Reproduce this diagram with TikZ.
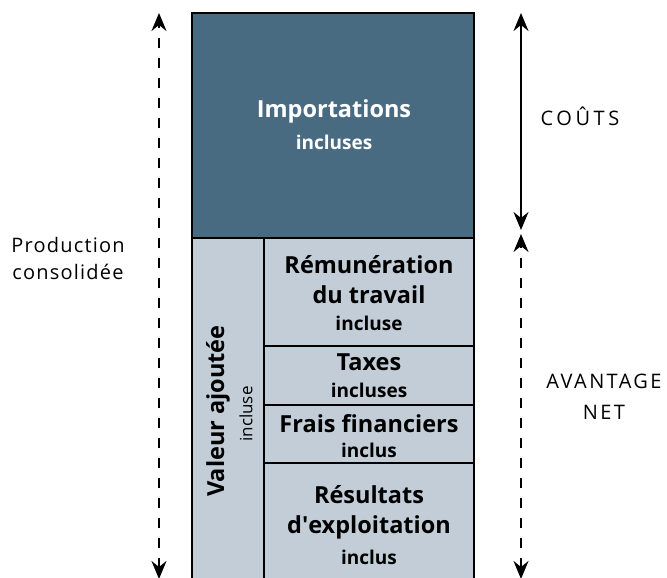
\documentclass[tikz,border=0pt]{standalone}
\usepackage{fontspec}
\setmainfont{Open Sans}
\usetikzlibrary{arrows.meta}

\definecolor{impblue}{HTML}{486B82}
\definecolor{vapale}{HTML}{C2CDD7}

\tikzset{
  cell/.style={draw=black, line width=2pt, fill=vapale, inner sep=0pt, outer sep=0pt,
               align=center, anchor=north west},
  title/.style={font=\bfseries\fontsize{23.5}{30}\selectfont, inner sep=0pt},
  sub/.style={font=\bfseries\fontsize{19}{20}\selectfont, inner sep=0pt},
  side/.style={font=\fontsize{20}{27}\selectfont, align=center},
  tip/.style={Stealth[length=18pt,width=15pt,inset=6pt]},
  span/.style={line width=2.2pt, {Stealth[length=18pt,width=15pt,inset=6pt]}-{Stealth[length=18pt,width=15pt,inset=6pt]}},
  dashspan/.style={span, dash pattern=on 10pt off 10pt},
}

\begin{document}
\begin{tikzpicture}[x=1pt,y=-1pt]
\useasboundingbox (0,0) rectangle (667,578);

% stacked blocks of the production column
\node[cell, fill=impblue, minimum width=282pt, minimum height=225pt] (imp) at (192,13) {};
\node[cell, minimum width=72pt, minimum height=345pt] (va) at (192,238) {};
\node[cell, minimum width=210pt, minimum height=108pt] (rem) at (264,238) {};
\node[cell, minimum width=210pt, minimum height=59pt] (tax) at (264,346) {};
\node[cell, minimum width=210pt, minimum height=58pt] (fra) at (264,405) {};
\node[cell, minimum width=210pt, minimum height=120pt] (res) at (264,463) {};

% labels inside the blocks
\node[title, text=white] (impt) at (334,111) {Importations};
\node[sub, text=white] (impi) at (334,142) {incluses};
\node[title, align=center] (remt) at (369,280) {Rémunération\\du travail};
\node[sub] (remi) at (369,323) {incluse};
\node[title] (taxt) at (369,362) {Taxes};
\node[sub] (taxi) at (369,390) {incluses};
\node[title] (frat) at (369,424) {Frais financiers};
\node[sub] (frai) at (369,450) {inclus};
\node[title, align=center] (rest) at (369,512) {Résultats\\d\textquotesingle exploitation};
\node[sub] (resi) at (369,557) {inclus};
\node[title, rotate=90] (vat) at (218,411) {Valeur ajoutée};
\node[font=\fontsize{17}{20}\selectfont, inner sep=0pt, rotate=90] (vai) at (246,414) {incluse};

% side labels
\node[side, font=\addfontfeature{LetterSpace=6}\fontsize{20}{27}\selectfont] (prod) at (68,258) {Production\\consolidée};
\node[side, font=\addfontfeature{LetterSpace=18}\fontsize{20}{27}\selectfont] (couts) at (580,116) {COÛTS};
\node[side, font=\addfontfeature{LetterSpace=12}\fontsize{20}{31}\selectfont] (avnet) at (604,397) {AVANTAGE\\NET};

% extent arrows
\coordinate (pl-top) at (159,13);
\coordinate (pl-bot) at (159,579);
\coordinate (c-top) at (521,13);
\coordinate (c-bot) at (521,230);
\coordinate (a-top) at (521,234);
\coordinate (a-bot) at (521,579);
\draw[dashspan] (pl-bot) -- (pl-top);
\draw[span] (c-top) -- (c-bot);
\draw[dashspan] (a-bot) -- (a-top);
\end{tikzpicture}
\end{document}
